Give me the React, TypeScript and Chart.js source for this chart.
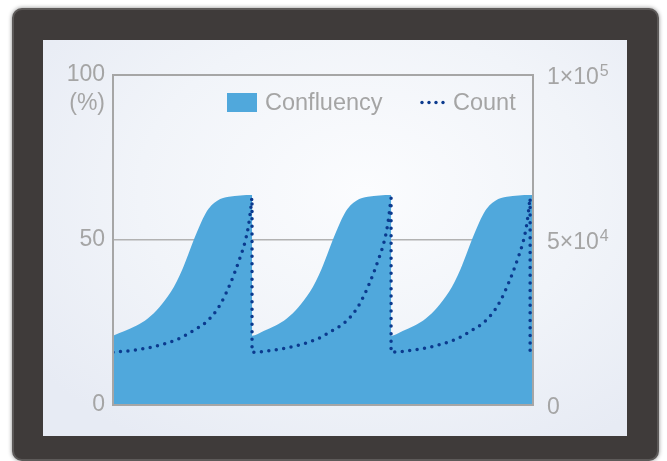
import React, { useEffect, useRef } from "react";
import { Chart, registerables } from "chart.js";

Chart.register(...registerables);

// ---- Data (hours on the x axis) ----
const confluencyHours = [
  0, 2, 4, 6, 8, 10, 11, 12, 13, 14, 15, 16, 17, 18, 19, 20, 22, 24,
  24, 26, 28, 30, 32, 34, 35, 36, 37, 38, 39, 40, 41, 42, 43, 44, 46, 48,
  48, 50, 52, 54, 56, 58, 59, 60, 61, 62, 63, 64, 65, 66, 67, 68, 70, 72, 72.5,
];
const confluencyValues = [
  21, 22.4, 24.0, 26.2, 29.6, 34.3, 37.4, 41.2, 45.7, 50.3, 54.5, 58.1, 60.5, 61.9, 62.7, 63.1, 63.5, 63.6,
  21, 22.4, 24.0, 26.2, 29.6, 34.3, 37.4, 41.2, 45.7, 50.3, 54.5, 58.1, 60.5, 61.9, 62.7, 63.1, 63.5, 63.6,
  21, 22.4, 24.0, 26.2, 29.6, 34.3, 37.4, 41.2, 45.7, 50.3, 54.5, 58.1, 60.5, 61.9, 62.7, 63.1, 63.5, 63.6, 63.6,
];

const countHours = [
  0, 4, 8, 11.5, 14, 16, 18, 19.5, 21, 22, 22.8, 23.4, 23.8, 24,
  24, 28, 32, 35.5, 38, 40, 42, 43.5, 45, 46, 46.8, 47.4, 47.8, 48,
  48, 52, 56, 59.5, 62, 64, 66, 67.5, 69, 70, 70.8, 71.4, 71.8, 72,
  72,
];
const countValues = [
  16000, 16700, 18100, 20200, 22700, 25000, 29000, 33800, 40100, 45000, 49500, 54500, 59800, 62700,
  16000, 16700, 18100, 20200, 22700, 25000, 29000, 33800, 40100, 45000, 49500, 54500, 59800, 62700,
  16000, 16700, 18100, 20200, 22700, 25000, 29000, 33800, 40100, 45000, 49500, 54500, 59800, 62700,
  16000,
];

const seriesLabels = ["Confluency", "Count"];
const leftTickValues = [0, 50, 100];
const leftTickLabels = ["0", "50", "100"];
const leftUnitLabel = "(%)";
const rightTickValues = [0, 50000, 100000];
const rightTickBases = ["0", "5×10", "1×10"];
const rightTickExps = ["", "4", "5"];

// ---- Styles ----
const TEXT_COLOR = "#a5a5a5";
const FONT = '"Liberation Sans", Arial, Helvetica, sans-serif';
const FILL_COLOR = "#50a8dc";
const DOT_COLOR = "#0b3a8e";

const overlayPlugin = {
  id: "overlay",
  afterDraw(chart: any) {
    const { ctx, chartArea } = chart;
    const { left, top, right, bottom } = chartArea;
    const yL = chart.scales.y;
    const yR = chart.scales.y1;
    ctx.save();

    // plot frame
    ctx.strokeStyle = "#a6a6a6";
    ctx.lineWidth = 2;
    ctx.strokeRect(left, top, right - left, bottom - top);

    // unit label under the 100 tick
    ctx.fillStyle = TEXT_COLOR;
    ctx.font = `23px ${FONT}`;
    ctx.textAlign = "right";
    ctx.textBaseline = "middle";
    ctx.fillText(leftUnitLabel, left - 8, yL.getPixelForValue(100) + 29);

    // right axis labels with superscripts
    ctx.textAlign = "left";
    ctx.textBaseline = "alphabetic";
    rightTickValues.forEach((v, i) => {
      const py = yR.getPixelForValue(v);
      const x0 = right + 14;
      ctx.font = `23px ${FONT}`;
      ctx.fillText(rightTickBases[i], x0, py + 9);
      if (rightTickExps[i]) {
        const w = ctx.measureText(rightTickBases[i]).width;
        ctx.font = `16px ${FONT}`;
        ctx.fillText(rightTickExps[i], x0 + w + 1, py + 1);
      }
    });

    // legend
    const lx = left + 114;
    const ly = top + 18;
    ctx.fillStyle = FILL_COLOR;
    ctx.fillRect(lx, ly, 30, 19);
    ctx.fillStyle = TEXT_COLOR;
    ctx.font = `23.5px ${FONT}`;
    ctx.textBaseline = "alphabetic";
    ctx.fillText(seriesLabels[0], lx + 38, ly + 17);
    ctx.fillStyle = DOT_COLOR;
    for (let k = 0; k < 4; k++) {
      ctx.beginPath();
      ctx.arc(lx + 195 + k * 7, ly + 9.5, 1.7, 0, Math.PI * 2);
      ctx.fill();
    }
    ctx.fillStyle = TEXT_COLOR;
    ctx.fillText(seriesLabels[1], lx + 226, ly + 17);

    ctx.restore();
  },
};

export default function App() {
  const canvasRef = useRef<HTMLCanvasElement | null>(null);

  useEffect(() => {
    if (!canvasRef.current) return;
    const chart = new Chart(canvasRef.current, {
      type: "line",
      data: {
        datasets: [
          {
            label: seriesLabels[1],
            data: countHours.map((h, i) => ({ x: h, y: countValues[i] })),
            yAxisID: "y1",
            borderColor: DOT_COLOR,
            borderWidth: 3.5,
            borderDash: [0, 7.5],
            borderCapStyle: "round",
            pointRadius: 0,
            fill: false,
            cubicInterpolationMode: "monotone",
            order: 0,
          },
          {
            label: seriesLabels[0],
            data: confluencyHours.map((h, i) => ({ x: h, y: confluencyValues[i] })),
            yAxisID: "y",
            borderWidth: 0,
            borderColor: FILL_COLOR,
            backgroundColor: FILL_COLOR,
            pointRadius: 0,
            fill: "origin",
            cubicInterpolationMode: "monotone",
            order: 1,
          },
        ],
      },
      options: {
        animation: false,
        responsive: false,
        maintainAspectRatio: false,
        layout: { padding: { top: 75, left: 0, right: 0, bottom: 0 } },
        plugins: { legend: { display: false }, tooltip: { enabled: false } },
        scales: {
          x: {
            type: "linear",
            min: 0,
            max: 72.5,
            ticks: { display: false },
            grid: { display: false },
            border: { display: false },
            afterFit(s: any) {
              s.height = 56;
            },
          },
          y: {
            position: "left",
            min: 0,
            max: 100,
            afterBuildTicks(s: any) {
              s.ticks = leftTickValues.map((v) => ({ value: v }));
            },
            ticks: {
              color: TEXT_COLOR,
              font: { family: FONT, size: 23 },
              padding: 8,
              callback: (v: any) => {
                const idx = leftTickValues.indexOf(Number(v));
                return idx >= 0 ? leftTickLabels[idx] : "";
              },
            },
            grid: {
              drawTicks: false,
              lineWidth: 1.5,
              color: (c: any) => (c.tick && c.tick.value === 50 ? "#b2b2b2" : "rgba(0,0,0,0)"),
            },
            border: { display: false },
            afterFit(s: any) {
              s.width = 113;
            },
          },
          y1: {
            position: "right",
            min: 0,
            max: 100000,
            afterBuildTicks(s: any) {
              s.ticks = rightTickValues.map((v) => ({ value: v }));
            },
            ticks: { display: false },
            grid: { display: false },
            border: { display: false },
            afterFit(s: any) {
              s.width = 134;
            },
          },
        },
      },
      plugins: [overlayPlugin],
    } as any);
    return () => chart.destroy();
  }, []);

  return (
    <div
      style={{
        position: "fixed",
        left: 0,
        top: 0,
        width: 667,
        height: 461,
        background: "#ffffff",
        overflow: "hidden",
      }}
    >
      <div
        style={{
          position: "absolute",
          left: 12,
          top: 8,
          width: 643,
          height: 449,
          background: "#3f3b3a",
          border: "2px solid #5d5a59",
          borderRadius: 10,
          boxShadow: "0 0 4px rgba(0,0,0,0.45)",
        }}
      />
      <div
        style={{
          position: "absolute",
          left: 43,
          top: 40,
          width: 584,
          height: 396,
          background:
            "radial-gradient(ellipse 70% 75% at 55% 38%, #fbfcfe 0%, #f1f4f9 55%, #e7ebf4 100%)",
        }}
      />
      <canvas
        ref={canvasRef}
        width={667}
        height={461}
        style={{ position: "absolute", left: 0, top: 0, width: 667, height: 461 }}
      />
    </div>
  );
}
